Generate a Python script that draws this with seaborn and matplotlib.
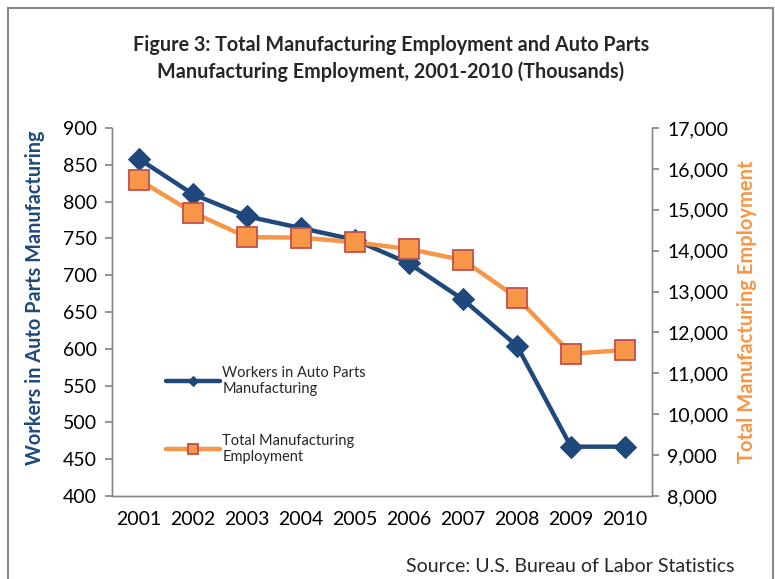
import matplotlib
matplotlib.use("Agg")
import matplotlib.pyplot as plt
import seaborn as sns
import pandas as pd
from matplotlib.patches import Rectangle
from matplotlib.ticker import FuncFormatter

years = [2001, 2002, 2003, 2004, 2005, 2006, 2007, 2008, 2009, 2010]
auto_parts = [858, 810, 780, 764, 748, 716, 667, 604, 467, 467]
total_mfg = [15730, 14930, 14330, 14320, 14205, 14040, 13770, 12850, 11480, 11570]
year_labels = [str(y) for y in years]

sns.set_theme(style="white")
plt.rcParams['font.family'] = ['Lato', 'DejaVu Sans']

df = pd.DataFrame({"year": years, "auto": auto_parts, "total": total_mfg})

fig = plt.figure(figsize=(7.75, 5.79), dpi=100)
ax = fig.add_axes([112/775, 83/579, 540/775, 368/579])
ax2 = ax.twinx()

blue = "#1F497D"
orange = "#F79646"
edge = "#C0504D"
grey = "#868686"

sns.lineplot(data=df, x="year", y="auto", ax=ax, color=blue, lw=3.2,
             marker="D", markersize=11, markeredgecolor=blue, markerfacecolor=blue,
             label="Workers in Auto Parts\nManufacturing", legend=False)
sns.lineplot(data=df, x="year", y="total", ax=ax2, color=orange, lw=3.2,
             marker="s", markersize=15, markeredgecolor=edge, markeredgewidth=1.3,
             markerfacecolor=orange,
             label="Total Manufacturing\nEmployment", legend=False)

ax.set_xlim(2000.5, 2010.5)
ax.set_ylim(400, 900)
ax2.set_ylim(8000, 17000)
ax.set_yticks(range(400, 901, 50))
ax2.set_yticks(range(8000, 17001, 1000))
ax2.yaxis.set_major_formatter(FuncFormatter(lambda v, p: f"{int(v):,}"))
ax.set_xticks(years)
ax.set_xticklabels(year_labels)

for a in (ax, ax2):
    for s in a.spines.values():
        s.set_color(grey)
        s.set_linewidth(1.0)
    a.spines['top'].set_visible(False)
    a.set_xlabel("")

ax.tick_params(axis='y', which='both', direction='out', length=5, color=grey,
               labelsize=14, labelcolor='#000000', left=True, pad=6)
ax.tick_params(axis='x', length=0, labelsize=14, labelcolor='#000000', pad=11)
ax2.tick_params(axis='y', direction='out', length=5, color=grey,
                labelsize=14, labelcolor='#000000', right=True, pad=6)

ax.set_ylabel("Workers in Auto Parts Manufacturing", color=blue, fontsize=14.3,
              fontweight='bold')
ax.yaxis.set_label_coords(-0.124, 0.54)
ax2.set_ylabel("Total Manufacturing Employment", color=orange, fontsize=14.5,
               fontweight='bold', labelpad=6)

fig.text(391/775, 1 - 45/579, "Figure 3: Total Manufacturing Employment and Auto Parts",
         ha='center', va='center', fontsize=14.2, fontweight='bold')
fig.text(391/775, 1 - 72/579, "Manufacturing Employment, 2001-2010 (Thousands)",
         ha='center', va='center', fontsize=14.2, fontweight='bold')
fig.text(735/775, 1 - 566/579, "Source: U.S. Bureau of Labor Statistics",
         ha='right', va='center', fontsize=14)

h1, l1 = ax.get_legend_handles_labels()
h2, l2 = ax2.get_legend_handles_labels()
leg = ax2.legend(h1 + h2, l1 + l2, loc='upper left', bbox_to_anchor=(0.075, 0.39),
                 frameon=False, fontsize=10.5, handlelength=3.7, labelspacing=2.6,
                 handletextpad=0.2, markerscale=0.45)
for t in leg.get_texts():
    t.set_color('#262626')

fig.patches.append(Rectangle((8/775, -0.02), 765/775, 1 - 8/579 + 0.02,
                             transform=fig.transFigure, fill=False,
                             edgecolor='#898989', lw=1.5))

fig.savefig("out.png", dpi=100)
